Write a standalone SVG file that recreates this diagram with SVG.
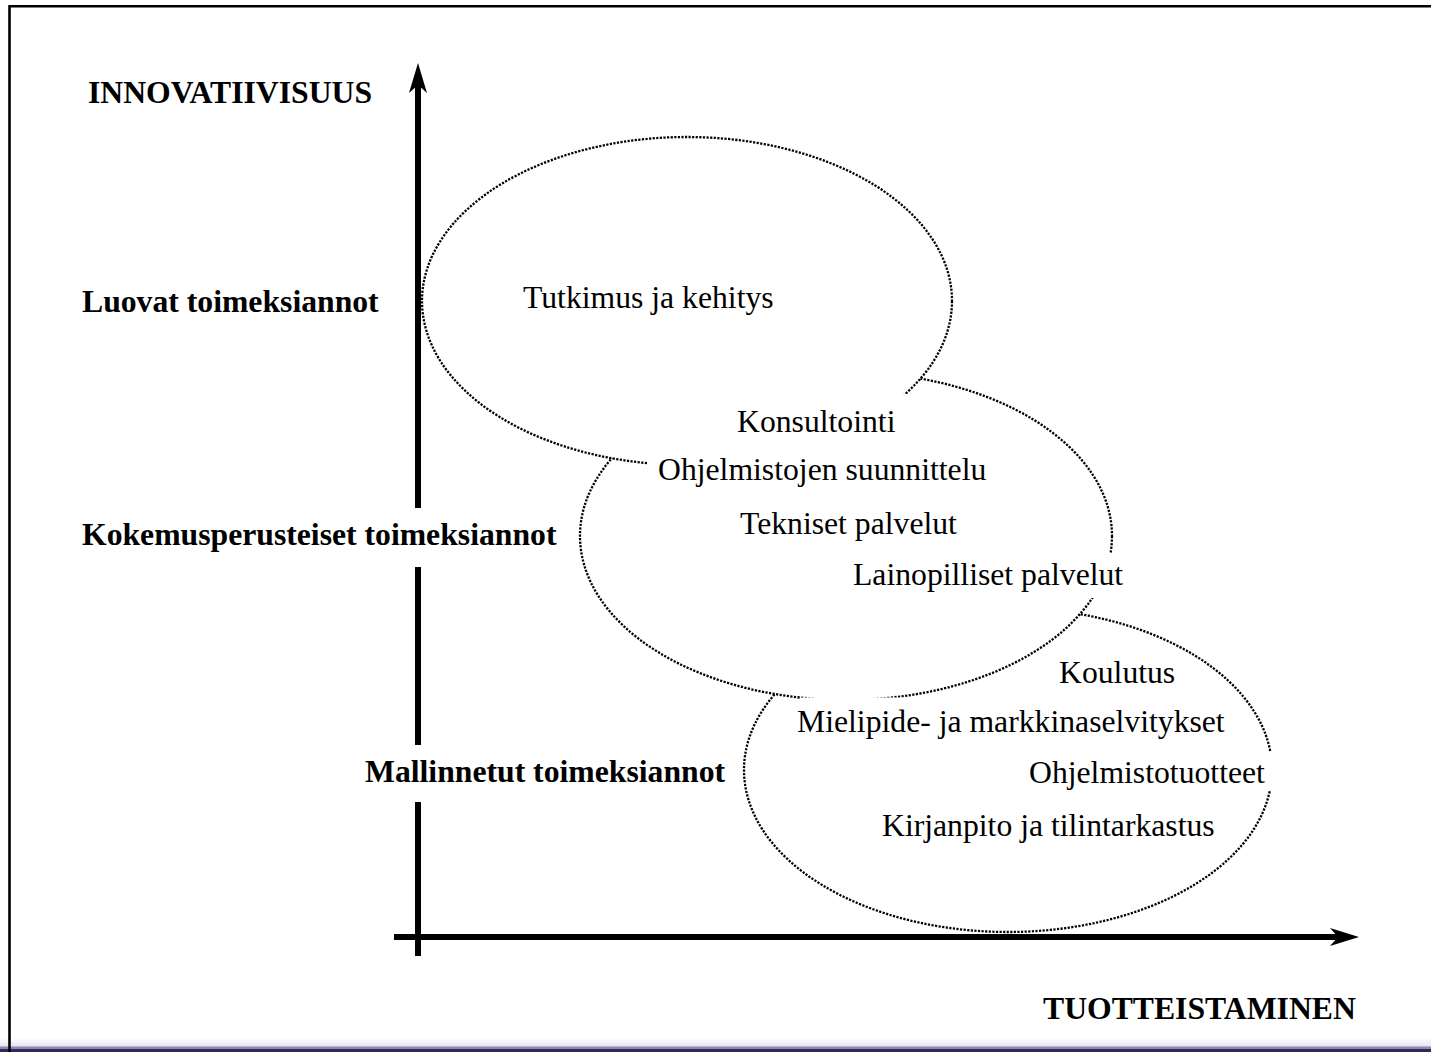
<svg xmlns="http://www.w3.org/2000/svg" width="1431" height="1052" viewBox="0 0 1431 1052">
  <style>
    .label { font-family: "Liberation Serif", "Times New Roman", serif; font-size: 31.7px; fill: #000; }
    .bold { font-weight: bold; }
    .cloud { fill: #fff; stroke: #000; stroke-width: 2.3; stroke-dasharray: 2.2 1.4; }
    .axis { stroke: #000; stroke-width: 6; fill: none; }
    .pad { fill: #fff; stroke: none; }
  </style>
  <defs>
    <linearGradient id="chrome" x1="0" y1="0" x2="0" y2="1">
      <stop offset="0" stop-color="#ffffff"/>
      <stop offset="1" stop-color="#e4e1f2"/>
    </linearGradient>
  </defs>

  <!-- page -->
  <rect x="0" y="0" width="1431" height="1052" fill="#fff"/>
  <rect x="0" y="1038" width="1431" height="9" fill="url(#chrome)"/>
  <rect x="0" y="1046.5" width="1431" height="2.5" fill="#8d89b4"/>
  <rect x="0" y="1049" width="1431" height="3" fill="#2e2b58"/>
  <path d="M9.5 1052 V6.2 H1431" fill="none" stroke="#000" stroke-width="2.6"/>

  <!-- clusters: drawn back to front so each white fill hides the outline beneath it -->
  <g id="cluster-mallinnetut">
    <ellipse class="cloud" cx="1008" cy="770" rx="264" ry="162"/>
  </g>
  <g id="cluster-kokemus">
    <ellipse class="cloud" cx="846" cy="536" rx="266" ry="164"/>
  </g>
  <g id="cluster-luovat">
    <ellipse class="cloud" cx="687" cy="301" rx="265" ry="164"/>
  </g>

  <!-- axes -->
  <g id="connectors">
    <line class="axis" x1="418" y1="956" x2="418" y2="84"/>
    <polygon points="418,63 427,93 418,85 409,93" fill="#000"/>
    <line class="axis" x1="394" y1="937" x2="1338" y2="937"/>
    <polygon points="1359,937 1330,946 1338,937 1330,928" fill="#000"/>
  </g>

  <!-- axis titles and levels -->
  <g id="axis-y-title">
    <text class="label bold" x="88" y="103">INNOVATIIVISUUS</text>
  </g>
  <g id="axis-x-title">
    <text class="label bold" x="1043" y="1019">TUOTTEISTAMINEN</text>
  </g>
  <g id="level-luovat">
    <text class="label bold" x="82" y="312">Luovat toimeksiannot</text>
  </g>
  <g id="level-kokemus">
    <rect class="pad" x="76" y="508" width="490" height="59"/>
    <text class="label bold" x="82" y="545">Kokemusperusteiset toimeksiannot</text>
  </g>
  <g id="level-mallinnetut">
    <rect class="pad" x="360" y="745" width="375" height="57"/>
    <text class="label bold" x="365" y="782">Mallinnetut toimeksiannot</text>
  </g>

  <!-- services -->
  <g id="item-tutkimus">
    <text class="label" x="523" y="308">Tutkimus ja kehitys</text>
  </g>
  <g id="item-konsultointi">
    <rect class="pad" x="725" y="394" width="183" height="56"/>
    <text class="label" x="737" y="432">Konsultointi</text>
  </g>
  <g id="item-ohjelmistojen">
    <rect class="pad" x="648" y="448" width="352" height="44"/>
    <text class="label" x="658" y="480">Ohjelmistojen suunnittelu</text>
  </g>
  <g id="item-tekniset">
    <text class="label" x="740" y="534">Tekniset palvelut</text>
  </g>
  <g id="item-lainopilliset">
    <rect class="pad" x="845" y="553" width="290" height="45"/>
    <text class="label" x="853" y="585">Lainopilliset palvelut</text>
  </g>
  <g id="item-koulutus">
    <text class="label" x="1059" y="683">Koulutus</text>
  </g>
  <g id="item-mielipide">
    <rect class="pad" x="800" y="697.5" width="432" height="47"/>
    <text class="label" x="797" y="732">Mielipide- ja markkinaselvitykset</text>
  </g>
  <g id="item-ohjelmistotuotteet">
    <rect class="pad" x="1022" y="752" width="254" height="38"/>
    <text class="label" x="1029" y="783">Ohjelmistotuotteet</text>
  </g>
  <g id="item-kirjanpito">
    <text class="label" x="882" y="836">Kirjanpito ja tilintarkastus</text>
  </g>
</svg>
